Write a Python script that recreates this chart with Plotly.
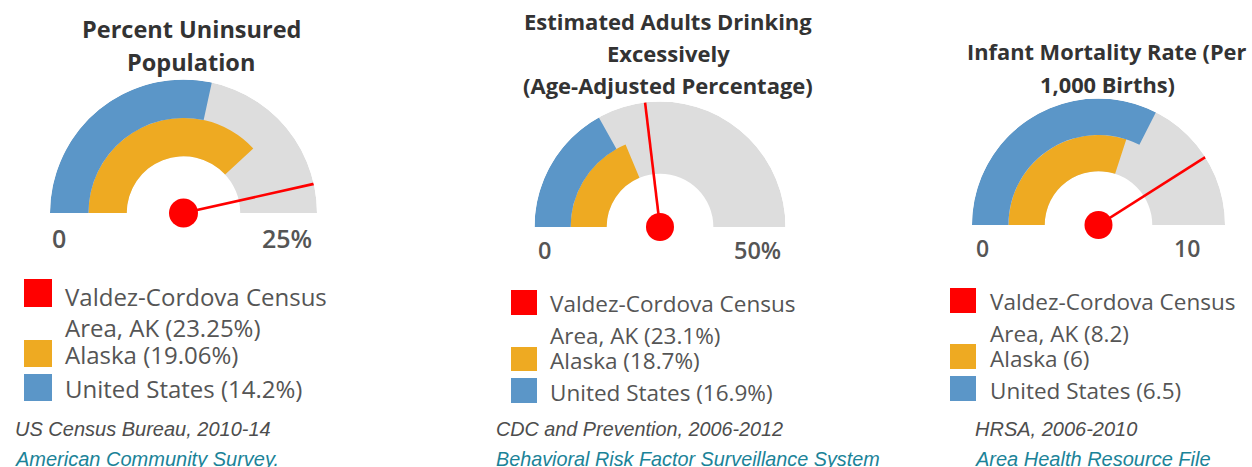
import plotly.graph_objects as go

W, H = 1252, 467

# ---------------- data ----------------
titles = [
    ["Percent Uninsured", "Population"],
    ["Estimated Adults Drinking", "Excessively", "(Age-Adjusted Percentage)"],
    ["Infant Mortality Rate (Per", "1,000 Births)"],
]
gauge_max = [25, 50, 10]
min_labels = ["0", "0", "0"]
max_labels = ["25%", "50%", "10"]
county_values = [23.25, 23.1, 8.2]
alaska_values = [19.06, 18.7, 6]
us_values = [14.2, 16.9, 6.5]
value_suffix = ["%", "%", ""]
county_name = ["Valdez-Cordova Census", "Area, AK"]
series_names = ["Alaska", "United States"]
sources = ["US Census Bureau, 2010-14", "CDC and Prevention, 2006-2012", "HRSA, 2006-2010"]
source_links = ["American Community Survey.", "Behavioral Risk Factor Surveillance System",
                "Area Health Resource File"]

# ---------------- styles / layout ----------------
RED = "#ff0000"
ORANGE = "#eeaa22"
BLUE = "#5b96c8"
GREY = "#dddddd"
TITLE_C = "#333333"
TEXT_C = "#555555"
SRC_C = "#4d4d4d"
LINK_C = "#1b8398"

R_HOLE, R_MID, R_OUT = 0.425, 0.712, 1.0

panels = [
    dict(cx=183.5, cy=213, R=133.5, tx=191, ty=[29, 62], tsize=23.5,
         lab0=59, lab1=314, laby=238, lsize=25,
         swx=[24, 52], swy=[[279, 307], [340, 367], [374, 401]],
         textx=63, texty=[296, 327, 354, 388], legsize=24,
         srcx=13, srcy=[429, 459], srcsize=20, dot=29),
    dict(cx=660, cy=227, R=125.5, tx=668, ty=[21, 53, 85], tsize=22,
         lab0=544, lab1=783, laby=250, lsize=23.5,
         swx=[511, 537], swy=[[290, 315], [347, 371], [378, 403]],
         textx=548, texty=[303, 335, 360, 392], legsize=22.5,
         srcx=494, srcy=[429, 459], srcsize=19.8, dot=28),
    dict(cx=1098.5, cy=225, R=126.5, tx=1107, ty=[52, 84], tsize=21.8,
         lab0=982, lab1=1202, laby=248, lsize=23,
         swx=[950, 976], swy=[[288, 313], [344, 369], [376, 401]],
         textx=988, texty=[301, 333, 358, 390], legsize=22.5,
         srcx=973, srcy=[429, 459], srcsize=20, dot=28),
]


def px(x):
    return x / W


def py(y):
    return 1 - y / H


fig = go.Figure()
annotations = []
shapes = []
layout_polars = {}

for i, p in enumerate(panels):
    sub = "polar" if i == 0 else f"polar{i + 1}"
    m = gauge_max[i]

    def ang(v, m=m):
        return v / m * 180.0

    # grey background ring
    fig.add_trace(go.Barpolar(subplot=sub, r=[R_OUT - R_HOLE], base=[R_HOLE],
                              theta=[ang(m) / 2], width=[ang(m)],
                              marker=dict(color=GREY, line=dict(width=0)),
                              showlegend=False, hoverinfo="skip"))
    # Alaska (inner ring)
    fig.add_trace(go.Barpolar(subplot=sub, r=[R_MID - R_HOLE], base=[R_HOLE],
                              theta=[ang(alaska_values[i]) / 2], width=[ang(alaska_values[i])],
                              marker=dict(color=ORANGE, line=dict(width=0)),
                              name=series_names[0], showlegend=False))
    # United States (outer ring)
    fig.add_trace(go.Barpolar(subplot=sub, r=[R_OUT - R_MID], base=[R_MID],
                              theta=[ang(us_values[i]) / 2], width=[ang(us_values[i])],
                              marker=dict(color=BLUE, line=dict(width=0)),
                              name=series_names[1], showlegend=False))
    # county needle
    fig.add_trace(go.Scatterpolar(subplot=sub, r=[0, R_OUT], theta=[ang(county_values[i])] * 2,
                                  mode="lines", line=dict(color=RED, width=2.6),
                                  showlegend=False, cliponaxis=False))
    fig.add_trace(go.Scatterpolar(subplot=sub, r=[0], theta=[ang(county_values[i])],
                                  mode="markers", marker=dict(size=p["dot"], color=RED),
                                  showlegend=False, cliponaxis=False))

    layout_polars[sub] = dict(
        domain=dict(x=[px(p["cx"] - p["R"]), px(p["cx"] + p["R"])],
                    y=[py(p["cy"]), py(p["cy"] - p["R"])]),
        sector=[0, 180],
        bgcolor="rgba(0,0,0,0)",
        bargap=0,
        radialaxis=dict(range=[0, 1], visible=False, showgrid=False, showline=False,
                        showticklabels=False, ticks=""),
        angularaxis=dict(visible=False, rotation=180, direction="clockwise",
                         showgrid=False, showline=False, showticklabels=False, ticks=""),
    )

    # titles
    for line, y in zip(titles[i], p["ty"]):
        annotations.append(dict(text=line, x=px(p["tx"]), y=py(y), xref="paper", yref="paper",
                                xanchor="center", yanchor="middle", showarrow=False,
                                font=dict(family="Open Sans", size=p["tsize"], color=TITLE_C,
                                          weight="bold")))
    # min / max labels
    annotations.append(dict(text=min_labels[i], x=px(p["lab0"]), y=py(p["laby"]), xref="paper",
                            yref="paper", xanchor="center", yanchor="middle", showarrow=False,
                            font=dict(family="Open Sans", size=p["lsize"], color=TEXT_C, weight=600)))
    annotations.append(dict(text=max_labels[i], x=px(p["lab1"]), y=py(p["laby"]), xref="paper",
                            yref="paper", xanchor="right", yanchor="middle", showarrow=False,
                            font=dict(family="Open Sans", size=p["lsize"], color=TEXT_C, weight=600)))

    # legend
    suf = value_suffix[i]
    legend_lines = [county_name[0],
                    f"{county_name[1]} ({county_values[i]:g}{suf})",
                    f"{series_names[0]} ({alaska_values[i]:g}{suf})",
                    f"{series_names[1]} ({us_values[i]:g}{suf})"]
    for line, y in zip(legend_lines, p["texty"]):
        annotations.append(dict(text=line, x=px(p["textx"]), y=py(y), xref="paper", yref="paper",
                                xanchor="left", yanchor="middle", showarrow=False,
                                font=dict(family="Open Sans", size=p["legsize"], color=TEXT_C)))
    for col, (y0, y1) in zip([RED, ORANGE, BLUE], p["swy"]):
        shapes.append(dict(type="rect", xref="paper", yref="paper",
                           x0=px(p["swx"][0]), x1=px(p["swx"][1]), y0=py(y1), y1=py(y0),
                           fillcolor=col, line=dict(width=0)))

    # sources
    annotations.append(dict(text=sources[i], x=px(p["srcx"]), y=py(p["srcy"][0]), xref="paper",
                            yref="paper", xanchor="left", yanchor="middle", showarrow=False,
                            font=dict(family="Liberation Sans", size=p["srcsize"], color=SRC_C,
                                      style="italic")))
    annotations.append(dict(text=source_links[i], x=px(p["srcx"]), y=py(p["srcy"][1]), xref="paper",
                            yref="paper", xanchor="left", yanchor="middle", showarrow=False,
                            font=dict(family="Liberation Sans", size=p["srcsize"], color=LINK_C,
                                      style="italic")))

fig.update_layout(
    width=W, height=H,
    margin=dict(l=0, r=0, t=0, b=0),
    paper_bgcolor="white", plot_bgcolor="white",
    showlegend=False,
    annotations=annotations,
    shapes=shapes,
    **layout_polars,
)

fig.write_html("out.html",
               config={"displayModeBar": False},
               post_script="document.body.style.margin='0';document.body.style.overflow='hidden';")
